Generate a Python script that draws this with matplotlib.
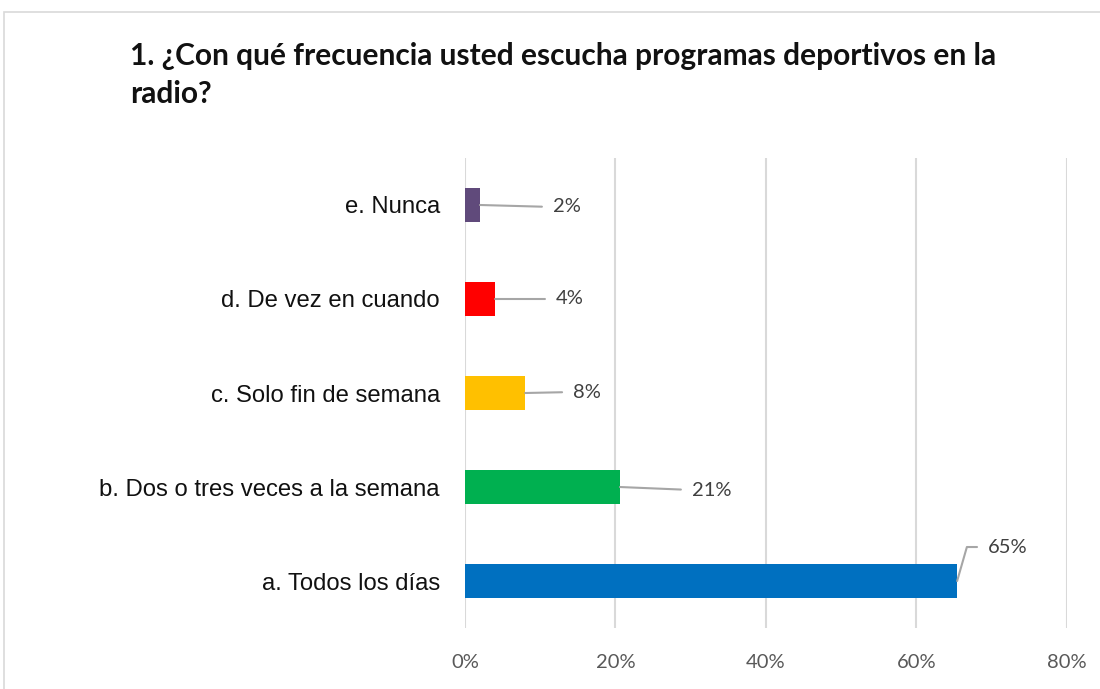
import matplotlib.pyplot as plt
from matplotlib.patches import Rectangle

categorias = ['a. Todos los días', 'b. Dos o tres veces a la semana',
              'c. Solo fin de semana', 'd. De vez en cuando', 'e. Nunca']
valores = [65.4, 20.6, 8.0, 4.0, 2.0]
etiquetas = ['65%', '21%', '8%', '4%', '2%']
colores = ['#0070C0', '#00B050', '#FFC000', '#FF0000', '#604A7B']
ticks = [0, 20, 40, 60, 80]

fig = plt.figure(figsize=(11, 6.89), dpi=100)
ax = fig.add_axes([0.4227, 0.0885, 0.5473, 0.6822])

# marco gris del grafico
fig.patches.append(Rectangle((4 / 1100, -0.1), 1.2, 1 - 12 / 689 + 0.1,
                             transform=fig.transFigure, fill=False,
                             edgecolor='#d9d9d9', linewidth=1.2))

y = range(len(categorias))
ax.barh(y, valores, height=0.36, color=colores, zorder=3)

ax.set_xlim(0, 80)
ax.set_ylim(-0.5, 4.5)
ax.set_xticks(ticks)
ax.set_xticklabels([f'{t}%' for t in ticks], color='#595959', fontsize=14.5,
                   family='Lato')
ax.set_yticks(list(y))
ax.set_yticklabels(categorias, fontsize=17.2, color='#111111',
                   family='Liberation Sans')
ax.tick_params(length=0, axis='both')
ax.tick_params(axis='x', pad=19)
ax.tick_params(axis='y', pad=18)
ax.grid(axis='x', color='#d9d9d9', linewidth=1.5, zorder=0)
for s in ax.spines.values():
    s.set_visible(False)

# etiquetas con lineas guia
desplaz = [(31, 34), (72, -3), (48, 1), (61, 0), (73, -2)]
for i, (v, et) in enumerate(zip(valores, etiquetas)):
    cs = 'angle,angleA=0,angleB=74,rad=0' if i == 0 else 'arc3'
    ax.annotate(et, xy=(v, i), xytext=desplaz[i], textcoords='offset pixels',
                ha='left', va='center', fontsize=14.5, color='#404040',
                family='Lato',
                arrowprops=dict(arrowstyle='-', color='#a6a6a6', lw=1.5,
                                shrinkA=6, shrinkB=0, relpos=(0, 0.5),
                                connectionstyle=cs))

fig.text(130 / 1100, 1 - 75 / 689,
         '1. ¿Con qué frecuencia usted escucha programas deportivos en la\nradio?',
         fontsize=21.5, fontweight='bold', family='Lato', color='#111111',
         ha='left', va='center', linespacing=1.45)

fig.savefig('out.png', dpi=100)
